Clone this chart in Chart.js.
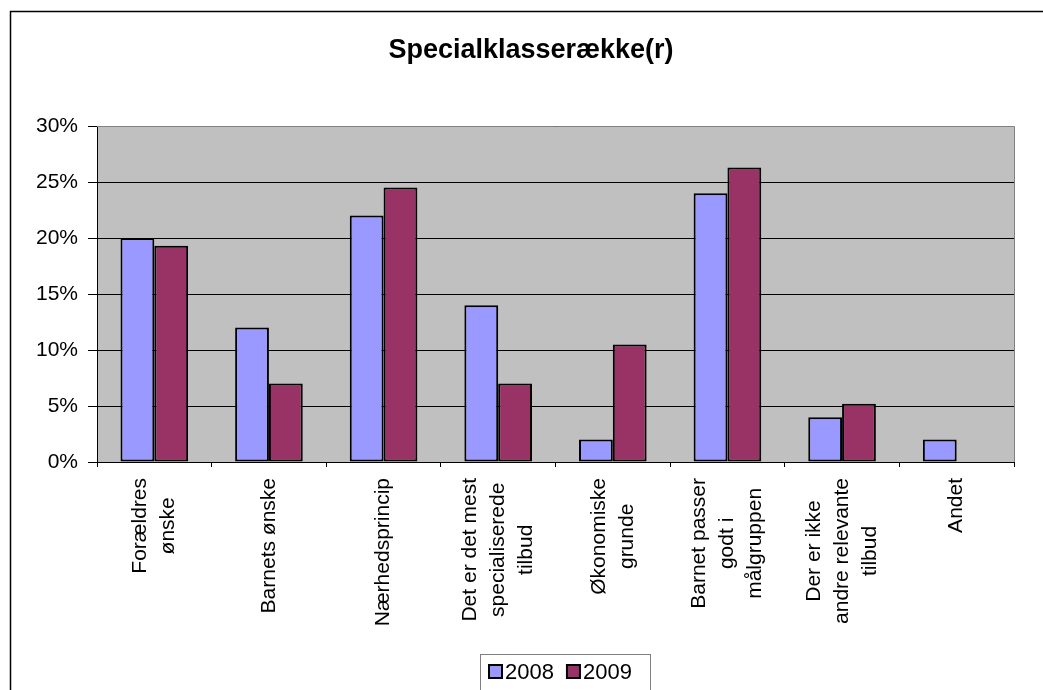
<!DOCTYPE html>
<html>
<head>
<meta charset="utf-8">
<script src="https://cdn.jsdelivr.net/npm/chart.js@4/dist/chart.umd.min.js"></script>
<style>
  html, body { margin: 0; padding: 0; background: #fff; overflow: hidden; }
</style>
</head>
<body>
<canvas id="myChart" width="1043" height="690"></canvas>
<script>
// categories (each one split in lines like the original axis)
var categories = [
  ["Forældres", "ønske"],
  ["Barnets ønske"],
  ["Nærhedsprincip"],
  ["Det er det mest", "specialiserede", "tilbud"],
  ["Økonomiske", "grunde"],
  ["Barnet passer", "godt i", "målgruppen"],
  ["Der er ikke", "andre relevante", "tilbud"],
  ["Andet"]
];
var series = ["2008", "2009"];
var values2008 = [20, 12, 22, 14, 2, 24, 4, 2];
var values2009 = [19.3, 7, 24.5, 7, 10.5, 26.3, 5.2, 0];
var yTicks = [0, 5, 10, 15, 20, 25, 30];
var chartTitle = "Specialklasserække(r)";

var fontFam = "Arial, 'Liberation Sans', sans-serif";

// gray plot background + frame + title + custom x labels + legend
var excelLook = {
  id: "excelLook",
  beforeDraw: function(chart) {
    var ctx = chart.ctx, a = chart.chartArea;
    ctx.save();
    ctx.fillStyle = "#C0C0C0";
    ctx.fillRect(a.left, a.top, a.right - a.left, a.bottom - a.top);
    // outer frame (left and top only visible)
    ctx.strokeStyle = "#000";
    ctx.lineWidth = 1.5;
    ctx.beginPath();
    ctx.moveTo(10.5, 700);
    ctx.lineTo(10.5, 11.5);
    ctx.lineTo(1043, 11.5);
    ctx.stroke();
    // title
    ctx.fillStyle = "#000";
    ctx.font = "bold 27px " + fontFam;
    ctx.textAlign = "center";
    ctx.textBaseline = "middle";
    ctx.fillText(chartTitle, 531, 51);
    ctx.restore();
  },
  afterDraw: function(chart) {
    var ctx = chart.ctx, a = chart.chartArea;
    var xs = chart.scales.x;
    ctx.save();
    // gray plot border top / right
    ctx.strokeStyle = "#808080";
    ctx.lineWidth = 1;
    ctx.beginPath();
    ctx.moveTo(a.left, a.top + 0.5);
    ctx.lineTo(a.right + 0.5, a.top + 0.5);
    ctx.lineTo(a.right + 0.5, a.bottom);
    ctx.stroke();

    // x labels, rotated, lines centred on each other
    ctx.font = "21px " + fontFam;
    ctx.fillStyle = "#000";
    ctx.textAlign = "center";
    ctx.textBaseline = "middle";
    var lineH = 28;
    for (var i = 0; i < categories.length; i++) {
      var lines = categories[i];
      var maxW = 0;
      for (var j = 0; j < lines.length; j++) {
        maxW = Math.max(maxW, ctx.measureText(lines[j]).width);
      }
      var cx = xs.getPixelForTick(i);
      for (var j = 0; j < lines.length; j++) {
        var off = (j - (lines.length - 1) / 2) * lineH;
        ctx.save();
        ctx.translate(cx + off, a.bottom + 16 + maxW / 2);
        ctx.rotate(-Math.PI / 2);
        ctx.fillText(lines[j], 0, 0);
        ctx.restore();
      }
    }

    // legend box
    ctx.strokeStyle = "#808080";
    ctx.lineWidth = 1;
    ctx.strokeRect(480.5, 654.5, 170, 60);
    ctx.font = "22px " + fontFam;
    var lx = 489;
    ctx.textAlign = "left";
    chart.data.datasets.forEach(function(ds) {
      ctx.fillStyle = ds.backgroundColor;
      ctx.fillRect(lx, 665, 13, 13);
      ctx.strokeStyle = "#000";
      ctx.lineWidth = 2;
      ctx.strokeRect(lx, 665, 13, 13);
      ctx.fillStyle = "#000";
      ctx.fillText(ds.label, lx + 16, 673);
      lx += 16 + ctx.measureText(ds.label).width + 13;
    });
    ctx.restore();
  }
};

new Chart("myChart", {
  type: "bar",
  data: {
    labels: categories,
    datasets: [{
      label: series[0],
      data: values2008,
      backgroundColor: "#9999FF",
      borderColor: "#000",
      borderWidth: 2,
      borderSkipped: false
    }, {
      label: series[1],
      data: values2009,
      backgroundColor: "#993366",
      borderColor: "#000",
      borderWidth: 2,
      borderSkipped: false
    }]
  },
  options: {
    responsive: false,
    animation: false,
    devicePixelRatio: 1,
    datasets: { bar: { categoryPercentage: 0.59, barPercentage: 1 } },
    layout: { padding: { top: 126, left: 10, right: 29, bottom: 0 } },
    plugins: {
      legend: { display: false },
      tooltip: { enabled: false },
      title: { display: false }
    },
    scales: {
      x: {
        grid: { offset: true, drawOnChartArea: false, drawTicks: true, tickLength: 5, color: "#000" },
        border: { color: "#000", width: 1 },
        ticks: { display: false },
        afterFit: function(s) { s.height = 228; }
      },
      y: {
        min: 0,
        max: 30,
        afterBuildTicks: function(s) {
          s.ticks = yTicks.map(function(v) { return { value: v }; });
        },
        grid: { color: "#000", lineWidth: 1, tickLength: 9 },
        border: { color: "#000", width: 1 },
        ticks: {
          color: "#000",
          padding: 10,
          font: { family: fontFam, size: 21 },
          callback: function(v) { return v + "%"; }
        },
        afterFit: function(s) { s.width = 87; }
      }
    }
  },
  plugins: [excelLook]
});
</script>
</body>
</html>
